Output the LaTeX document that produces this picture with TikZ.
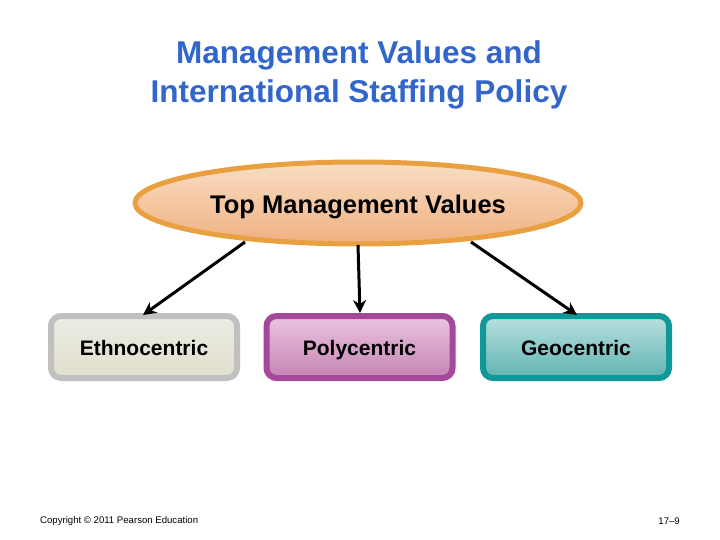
\documentclass[tikz,border=0pt]{standalone}
\usepackage{fontspec}
\setmainfont{Liberation Sans}
\usetikzlibrary{arrows.meta,shapes.geometric}
\definecolor{titleblue}{RGB}{51,102,204}
\definecolor{orangeedge}{RGB}{232,160,64}
\definecolor{grayedge}{RGB}{192,192,192}
\definecolor{purpleedge}{RGB}{164,72,156}
\definecolor{tealedge}{RGB}{16,152,152}
\tikzset{
  titletext/.style={text=titleblue, font=\fontsize{31.5}{39}\selectfont\bfseries, align=center},
  ellnode/.style={ellipse, draw=orangeedge, line width=5pt},
  boxnode/.style={draw, line width=6pt, rounded corners=10pt, minimum width=186pt, minimum height=62pt, inner sep=0pt, text height=18pt, text depth=1pt, font=\fontsize{21}{24}\selectfont\bfseries},
  conn/.style={line width=3pt, -{Stealth[length=13pt,width=13pt]}},
  foot/.style={font=\fontsize{9.6}{11}\selectfont, inner sep=0pt}
}
\begin{document}
\begin{tikzpicture}[x=1pt,y=-1pt]
\useasboundingbox[fill=white] (0,0) rectangle (720,540);
\node[titletext] (title) at (359,75) {Management Values and\\International Staffing Policy};
\node[ellnode, minimum width=446pt, minimum height=82pt, top color={rgb,255:red,248;green,222;blue,196}, bottom color={rgb,255:red,240;green,176;blue,128}] (top) at (358,203) {};
\node[font=\fontsize{25.5}{28}\selectfont\bfseries] (toptext) at (358,207) {Top Management Values\vphantom{Ty}};
\node[boxnode, draw=grayedge, top color={rgb,255:red,236;green,236;blue,228}, bottom color={rgb,255:red,224;green,222;blue,204}] (eth) at (144,347) {Ethnocentric};
\node[boxnode, draw=purpleedge, top color={rgb,255:red,236;green,196;blue,224}, bottom color={rgb,255:red,196;green,132;blue,180}] (poly) at (359.5,347) {Polycentric};
\node[boxnode, draw=tealedge, top color={rgb,255:red,184;green,224;blue,224}, bottom color={rgb,255:red,96;green,180;blue,178}] (geo) at (576,347) {Geocentric};
\coordinate (s1) at (245,242);
\coordinate (s2) at (358,245);
\coordinate (s3) at (471,242);
\coordinate (e1) at (143,315);
\coordinate (e2) at (360,313);
\coordinate (e3) at (577,315);
\draw[conn] (s1) -- (e1);
\draw[conn] (s2) -- (e2);
\draw[conn] (s3) -- (e3);
\node[foot, anchor=west] (copy) at (40,521) {Copyright © 2011 Pearson Education};
\node[foot, anchor=east] (page) at (680,521) {17–9};
\end{tikzpicture}
\end{document}
